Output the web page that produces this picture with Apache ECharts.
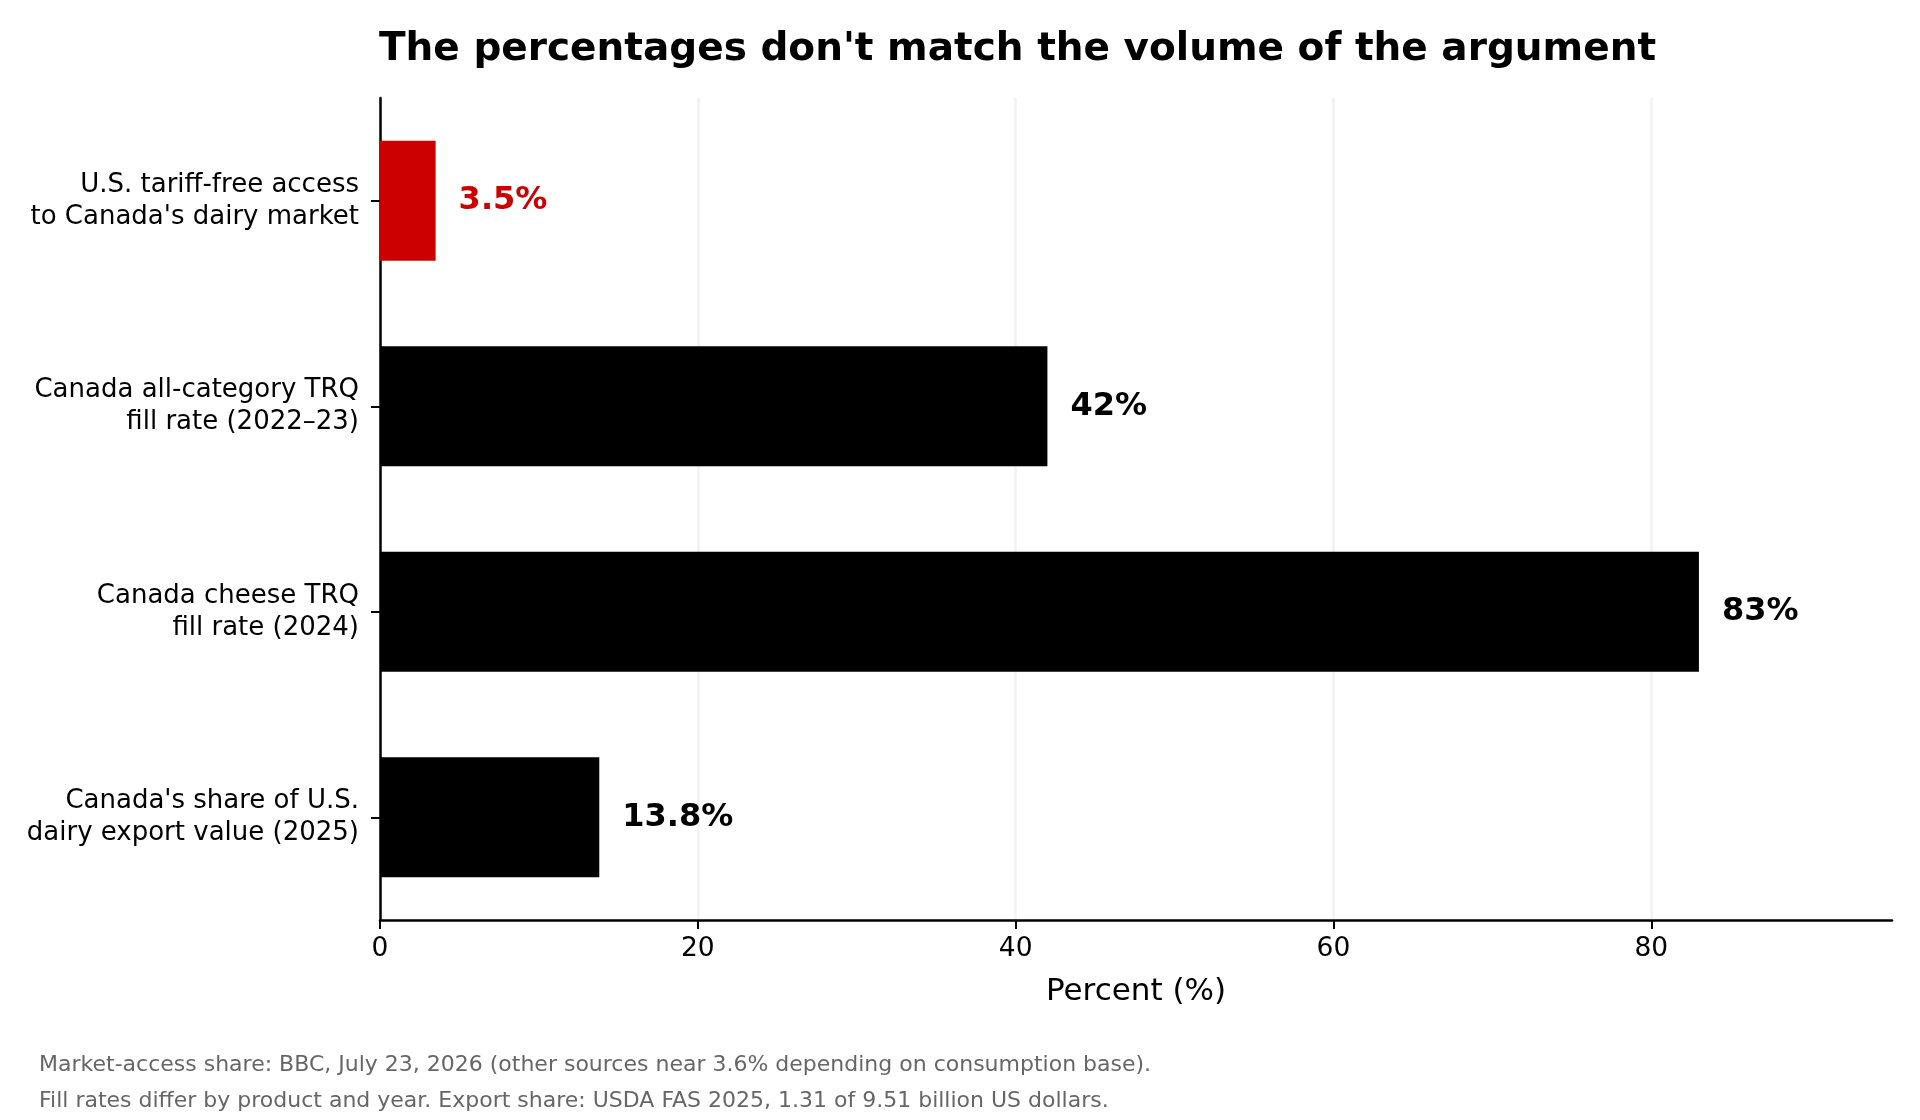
<!DOCTYPE html>
<html>
<head>
<meta charset="utf-8">
<title>Dairy percentages</title>
<script src="https://cdn.jsdelivr.net/npm/echarts@6/dist/echarts.min.js"></script>
<style>
html,body{margin:0;padding:0;background:#fff;}
#chart{width:1920px;height:1120px;}
</style>
</head>
<body>
<div id="chart"></div>
<script>
// categories, top to bottom
const categories=[
	"U.S. tariff-free access\nto Canada's dairy market",
	"Canada all-category TRQ\nfill rate (2022–23)",
	"Canada cheese TRQ\nfill rate (2024)",
	"Canada's share of U.S.\ndairy export value (2025)"
];
const values=[3.5,42,83,13.8];
const barColors=["#cc0000","#000000","#000000","#000000"];
const xTicks=[0,20,40,60,80];
const xMax=95.15;
const notes=[
	"Market-access share: BBC, July 23, 2026 (other sources near 3.6% depending on consumption base).",
	"Fill rates differ by product and year. Export share: USDA FAS 2025, 1.31 of 9.51 billion US dollars."
];

const font="DejaVu Sans";
const chart=echarts.init(document.getElementById('chart'));

var barData=[];
for(var i=0;i<values.length;i++){
	barData.push({
		value:values[i],
		itemStyle:{color:barColors[i]},
		label:{color:barColors[i]}
	});
}

var option={
	backgroundColor:"#ffffff",
	animation:false,
	grid:{left:380,right:28,top:98,bottom:200,containLabel:false},
	graphic:[
		{type:"text",x:379,y:50,style:{text:"The percentages don't match the volume of the argument",
			font:"bold 39px '"+font+"'",fill:"#000",verticalAlign:"middle"}},
		{type:"text",x:39,y:1065,style:{text:notes[0],font:"22px '"+font+"'",fill:"#666666",verticalAlign:"middle"}},
		{type:"text",x:39,y:1101,style:{text:notes[1],font:"22px '"+font+"'",fill:"#666666",verticalAlign:"middle"}}
	],
	xAxis:{
		type:"value",
		min:0,
		max:xMax,
		name:"Percent (%)",
		nameLocation:"middle",
		nameGap:54,
		nameTextStyle:{fontFamily:font,fontSize:31,color:"#000",lineHeight:36},
		axisLine:{show:true,lineStyle:{color:"#000",width:2.5}},
		axisTick:{show:true,length:9,customValues:xTicks,lineStyle:{color:"#000",width:2}},
		axisLabel:{customValues:xTicks,fontFamily:font,fontSize:26.5,color:"#000",margin:14,lineHeight:30},
		splitLine:{show:true,lineStyle:{color:"#f2f2f2",width:2.5}}
	},
	yAxis:{
		type:"category",
		inverse:true,
		data:categories,
		axisLine:{show:true,lineStyle:{color:"#000",width:2.5}},
		axisTick:{show:true,alignWithLabel:true,length:9,lineStyle:{color:"#000",width:2}},
		axisLabel:{fontFamily:font,fontSize:26,lineHeight:32,color:"#000",margin:21,align:"right"},
		splitLine:{show:false}
	},
	series:[{
		type:"bar",
		data:barData,
		barWidth:120,
		label:{
			show:true,
			position:"right",
			distance:23,
			fontFamily:font,
			fontSize:32,
			fontWeight:"bold",
			formatter:function(p){return p.value+"%";}
		}
	}]
};
chart.setOption(option);
</script>
</body>
</html>
